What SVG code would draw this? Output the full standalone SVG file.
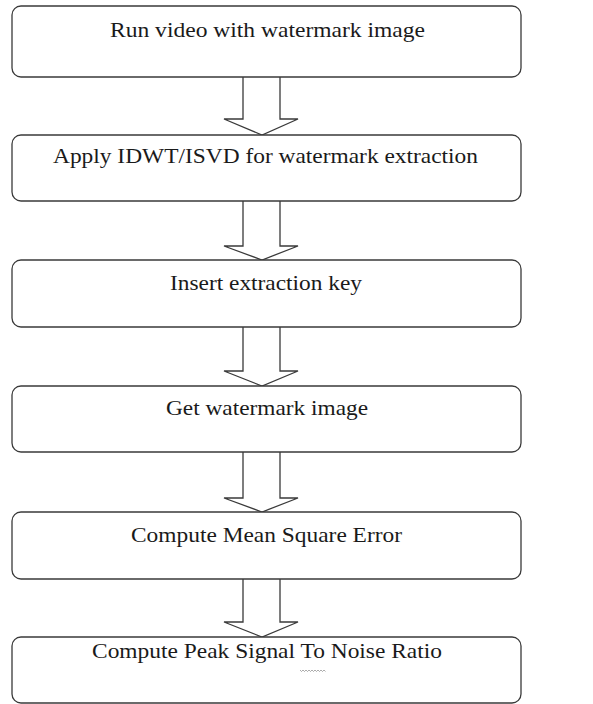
<svg xmlns="http://www.w3.org/2000/svg" width="593" height="704" viewBox="0 0 593 704">
<style>
.box{fill:#fff;stroke:#3a3a3a;stroke-width:1.3}
.lbl{font-family:"Liberation Serif","Times New Roman",serif;font-size:21px;fill:#1a1a1a;text-anchor:middle}
.arr{fill:#fff;stroke:#3a3a3a;stroke-width:1.3;stroke-linejoin:miter}
</style>
<rect width="593" height="704" fill="#fff"/>
<g id="connectors">
<path class="arr" d="M243,77 V119 H224 L262,135 L298,119 H280 V77"/>
<path class="arr" d="M243,201 V246 H224 L262,260 L298,246 H280 V201"/>
<path class="arr" d="M243,327 V371 H224 L262,386 L298,371 H280 V327"/>
<path class="arr" d="M243,452 V498 H224 L262,512 L298,498 H280 V452"/>
<path class="arr" d="M243,579 V622 H224 L262,637 L298,622 H280 V579"/>
</g>
<g id="n1"><rect class="box" x="12" y="6" width="509" height="71" rx="9"/><text class="lbl" x="267.5" y="37" textLength="315" lengthAdjust="spacingAndGlyphs">Run video with watermark image</text></g>
<g id="n2"><rect class="box" x="12" y="135" width="509" height="66" rx="9"/><text class="lbl" x="265.5" y="163" textLength="425" lengthAdjust="spacingAndGlyphs">Apply IDWT/ISVD for watermark extraction</text></g>
<g id="n3"><rect class="box" x="12" y="260" width="509" height="67" rx="9"/><text class="lbl" x="266" y="290" textLength="192" lengthAdjust="spacingAndGlyphs">Insert extraction key</text></g>
<g id="n4"><rect class="box" x="12" y="386" width="509" height="66" rx="9"/><text class="lbl" x="267" y="415" textLength="202" lengthAdjust="spacingAndGlyphs">Get watermark image</text></g>
<g id="n5"><rect class="box" x="12" y="512" width="509" height="67" rx="9"/><text class="lbl" x="266.5" y="542" textLength="271" lengthAdjust="spacingAndGlyphs">Compute Mean Square Error</text></g>
<g id="n6"><rect class="box" x="12" y="637" width="509" height="66" rx="9"/><text class="lbl" x="267" y="658" textLength="350" lengthAdjust="spacingAndGlyphs">Compute Peak Signal To Noise Ratio</text><path d="M300,670 l1.5,1.5 l1.5,-1.5 l1.5,1.5 l1.5,-1.5 l1.5,1.5 l1.5,-1.5 l1.5,1.5 l1.5,-1.5 l1.5,1.5 l1.5,-1.5 l1.5,1.5 l1.5,-1.5 l1.5,1.5 l1.5,-1.5 l1.5,1.5 l1.5,-1.5 l1.5,1.5" fill="none" stroke="#888" stroke-width="0.7"/></g>
</svg>
